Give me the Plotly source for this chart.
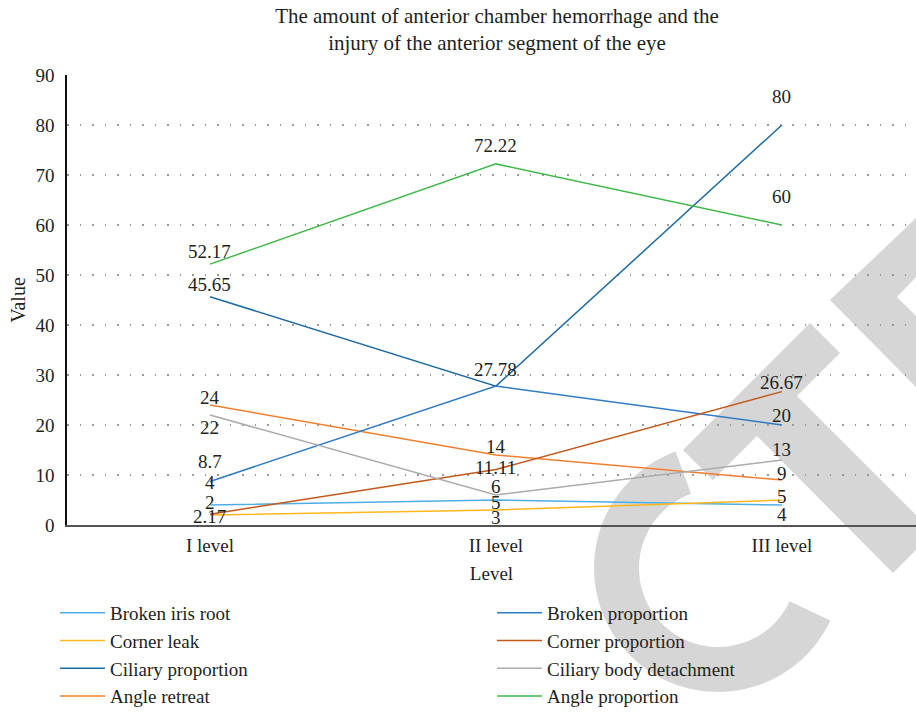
import math
import plotly.graph_objects as go

# ---- data ----
levels = ["I level", "II level", "III level"]

broken_iris_root = [4, 5, 4]
corner_leak = [2, 3, 5]
ciliary_proportion = [45.65, 27.78, 80]
angle_retreat = [24, 14, 9]
broken_proportion = [8.7, 27.78, 20]
corner_proportion = [2.17, 11.11, 26.67]
ciliary_body_detachment = [22, 6, 13]
angle_proportion = [52.17, 72.22, 60]

# name, values, colour, legend, rank, label offsets in px (None = no label)
series = [
    ("Broken iris root", broken_iris_root, "#4EAEE3", "legend", 1, [23, -2, -9]),
    ("Corner leak", corner_leak, "#FFB81C", "legend", 2, [13, -7, 4]),
    ("Ciliary proportion", ciliary_proportion, "#1C6AA3", "legend", 3, [12, 17, 29]),
    ("Angle retreat", angle_retreat, "#F07F2E", "legend", 4, [8, 9, 7]),
    ("Broken proportion", broken_proportion, "#2F7BC4", "legend2", 5, [20, None, 10]),
    ("Corner proportion", corner_proportion, "#C4581A", "legend2", 6, [-2, 2, 9]),
    ("Ciliary body detachment", ciliary_body_detachment, "#ABABAB", "legend2", 7, [-12, 9, 11]),
    ("Angle proportion", angle_proportion, "#3FB84A", "legend2", 8, [13, 18, 29]),
]

FONT = "Liberation Serif"
INK = "#231F20"
W, H = 916, 712
ML, MR, MT, MB = 67, 0, 75, 187
PW, PH = W - ML - MR, H - MT - MB

fig = go.Figure()
for name, vals, color, leg, rank, shifts in series:
    fig.add_trace(go.Scatter(
        x=levels, y=vals, name=name, mode="lines",
        line=dict(color=color, width=1.5),
        legend=leg, legendrank=rank, hoverinfo="x+y+name",
    ))
    for lvl, v, s in zip(levels, vals, shifts):
        if s is None:
            continue
        fig.add_annotation(
            x=lvl, y=v, text=f"{v:g}", showarrow=False, yshift=s,
            font=dict(family=FONT, size=19, color=INK),
        )


# light grey background lettering, given in pixel space and mapped to paper space
def px_path(points):
    pts = [((x - ML) / PW, (H - MB - y) / PH) for x, y in points]
    return "M " + " L ".join(f"{a:.4f},{b:.4f}" for a, b in pts) + " Z"


def arc_points(cx, cy, r_in, r_out, a0, a1, n=60):
    outer = [(cx + r_out * math.cos(math.radians(a0 + (a1 - a0) * i / n)),
              cy + r_out * math.sin(math.radians(a0 + (a1 - a0) * i / n))) for i in range(n + 1)]
    inner = [(cx + r_in * math.cos(math.radians(a1 - (a1 - a0) * i / n)),
              cy + r_in * math.sin(math.radians(a1 - (a1 - a0) * i / n))) for i in range(n + 1)]
    return outer + inner


shade = "#D6D6D6"
glyphs = [
    [(810, 323), (840, 353), (797, 396), (916, 515), (916, 550), (893, 573),
     (757, 436), (713, 480), (683, 450)],
    [(830, 300), (916, 218), (916, 277), (897, 297), (916, 316), (916, 387)],
    arc_points(718, 568, 79, 124, 25, 250),
]
for g in glyphs:
    fig.add_shape(type="path", path=px_path(g), xref="paper", yref="paper",
                  fillcolor=shade, line=dict(width=0), layer="below")

legend_common = dict(
    orientation="v", xanchor="left", yref="container", yanchor="top",
    y=1 - 594 / H, itemwidth=45, tracegroupgap=0,
    font=dict(family=FONT, size=19, color=INK),
    bgcolor="rgba(0,0,0,0)",
)

fig.update_layout(
    width=W, height=H,
    margin=dict(l=ML, r=MR, t=MT, b=MB),
    paper_bgcolor="white", plot_bgcolor="white",
    font=dict(family=FONT, size=19, color=INK),
    title=dict(
        text="The amount of anterior chamber hemorrhage and the<br>injury of the anterior segment of the eye",
        x=497 / W, xanchor="center", yref="container", y=1 - 23 / H, yanchor="middle",
        font=dict(family=FONT, size=21, color=INK),
    ),
    showlegend=True,
    legend=dict(x=(55 - ML) / PW, **legend_common),
    legend2=dict(x=(492 - ML) / PW, **legend_common),
    xaxis=dict(
        type="category", range=[-0.5, 2.469],
        showgrid=False, zeroline=False,
        showline=True, linecolor="#555555", linewidth=2,
        ticks="", ticklabelstandoff=2,
        title=dict(text="Level", standoff=12, font=dict(family=FONT, size=19, color=INK)),
        tickfont=dict(family=FONT, size=19, color=INK),
    ),
    yaxis=dict(
        range=[0, 90], dtick=10, tick0=0,
        showgrid=True, gridcolor="#9A9A9A", gridwidth=1.5, griddash="1.5px,11px",
        zeroline=False,
        showline=True, linecolor="#111111", linewidth=1.5,
        ticks="", ticklabelstandoff=7,
        title=dict(text="Value", standoff=4, font=dict(family=FONT, size=20, color=INK)),
        tickfont=dict(family=FONT, size=19, color=INK),
    ),
)

fig.write_html("out.html")
